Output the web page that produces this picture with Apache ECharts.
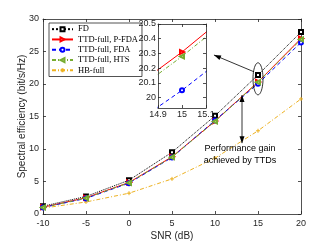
<!DOCTYPE html>
<html><head><meta charset="utf-8">
<script src="https://cdn.jsdelivr.net/npm/echarts@6/dist/echarts.min.js"></script>
<style>html,body{margin:0;padding:0;background:#fff}#c{width:332px;height:242px}</style>
</head><body><div id="c"></div>
<script>
const snr = [-10, -5, 0, 5, 10, 15, 20];
const fd = [1.2, 2.7, 5.2, 9.5, 15.1, 21.4, 28.0];
const ttdPfda = [1.05, 2.5, 4.85, 8.8, 14.3, 20.31, 27.0];
const ttdFda = [1.0, 2.4, 4.75, 8.7, 14.4, 20.05, 26.4];
const ttdHts = [1.0, 2.45, 4.8, 8.75, 14.25, 20.28, 26.85];
const hbFull = [0.9, 1.85, 3.2, 5.4, 8.6, 12.8, 17.7];
const names = ['FD', 'TTD-full, P-FDA', 'TTD-full, FDA', 'TTD-full, HTS', 'HB-full'];
const xTicks = [-10, -5, 0, 5, 10, 15, 20];
const yTicks = [0, 5, 10, 15, 20, 25, 30];
const insetXTicks = [14.9, 15, 15.1];
const insetYTicks = [20, 20.1, 20.2, 20.3, 20.4, 20.5];

const pts = arr => snr.map((x, i) => [x, arr[i]]);
const AX = '#262626';
const plus = 'path://M0,5L10,5M5,0L5,10';
const sty = [
  {c: '#000000', t: 'dotted', s: 'emptyRect', r: 0, z: 5},
  {c: '#ff0000', t: 'solid', s: 'emptyTriangle', r: -90, z: 6},
  {c: '#0000ff', t: [4, 3], s: 'emptyCircle', r: 0, z: 7},
  {c: '#77ac30', t: [4, 2, 1, 2], s: 'emptyTriangle', r: 90, z: 8},
  {c: '#edb120', t: [4, 2, 1, 2], s: plus, r: 0, z: 4}
];
const dataSets = [fd, ttdPfda, ttdFda, ttdHts, hbFull];

function mkSeries(i, xi, yi, zb) {
  const s = sty[i];
  return {
    name: names[i], type: 'line', xAxisIndex: xi, yAxisIndex: yi,
    data: pts(dataSets[i]), clip: true, z: s.z + zb,
    symbol: s.s, symbolSize: 4, symbolRotate: s.r, showSymbol: true,
    lineStyle: {color: s.c, width: 1, type: s.t},
    itemStyle: {color: s.c, borderColor: s.c, borderWidth: 1},
    emphasis: {disabled: true}, animation: false
  };
}

const series = [];
for (let i = 0; i < 5; i++) series.push(mkSeries(i, 0, 0, 0));
for (let i = 1; i < 4; i++) series.push(mkSeries(i, 2, 2, 20));

const labelStyle = {color: AX, fontSize: 9, fontFamily: 'Liberation Sans'};
function axis(grid, pos, min, max, ticks, showLabel, margin, z) {
  return {
    type: 'value', gridIndex: grid, position: pos, min: min, max: max, z: z,
    axisLine: {show: true, onZero: false, lineStyle: {color: AX, width: 0.8}},
    axisTick: {show: true, inside: true, length: 3, customValues: ticks, lineStyle: {color: AX, width: 0.8}},
    axisLabel: {show: showLabel, customValues: ticks, margin: margin, ...labelStyle,
      formatter: v => String(+v.toFixed(2))},
    splitLine: {show: false}
  };
}

const chart = echarts.init(document.getElementById('c'), null, {renderer: 'canvas'});
const option = {
  animation: false,
  backgroundColor: '#fff',
  grid: [
    {left: 43, right: 31, top: 19, bottom: 28, show: false, outerBoundsMode: 'none', containLabel: false},
    {left: 158, width: 48, top: 24, height: 84, show: true, backgroundColor: '#fff', borderWidth: 0, z: 15, outerBoundsMode: 'none', containLabel: false}
  ],
  xAxis: [
    Object.assign(axis(0, 'bottom', -10, 20, xTicks, true, 5, 2), {name: 'SNR (dB)', nameLocation: 'middle', nameGap: 17, nameMoveOverlap: false,
      nameTextStyle: {color: AX, fontSize: 10, fontFamily: 'Liberation Sans'}}),
    axis(0, 'top', -10, 20, xTicks, false, 4, 2),
    axis(1, 'bottom', 14.9, 15.1, insetXTicks, true, 2, 30),
    axis(1, 'top', 14.9, 15.1, insetXTicks, false, 2, 30)
  ],
  yAxis: [
    Object.assign(axis(0, 'left', 0, 30, yTicks, true, 4, 2), {name: 'Spectral efficiency (bit/s/Hz)', nameLocation: 'middle', nameGap: 16, nameMoveOverlap: false,
      nameTextStyle: {color: AX, fontSize: 10, fontFamily: 'Liberation Sans'}}),
    axis(0, 'right', 0, 30, yTicks, false, 4, 2),
    axis(1, 'left', 19.93, 20.5, insetYTicks, true, 2, 30),
    axis(1, 'right', 19.93, 20.5, insetYTicks, false, 2, 30)
  ],
  legend: {
    data: names, orient: 'vertical', left: 49, top: 23,
    itemWidth: 21, itemHeight: 5, itemGap: 1, padding: [1.5, 4, 1.5, 2],
    backgroundColor: '#fff', borderColor: AX, borderWidth: 0.8,
    textStyle: {fontFamily: 'Liberation Serif', fontSize: 8.5, lineHeight: 9.3, color: '#000'},
    selectedMode: false
  },
  series: series
};
chart.setOption(option);

const P = (x, y) => chart.convertToPixel({gridIndex: 0}, [x, y]);
function head(tip, from, len, wid) {
  const dx = tip[0] - from[0], dy = tip[1] - from[1];
  const L = Math.hypot(dx, dy), ux = dx / L, uy = dy / L;
  const bx = tip[0] - ux * len, by = tip[1] - uy * len;
  return {type: 'polygon', z: 50, shape: {points: [tip, [bx - uy * wid / 2, by + ux * wid / 2], [bx + uy * wid / 2, by - ux * wid / 2]]},
    style: {fill: '#000'}};
}
const ec = P(15, 20.8);
const ell = [];
for (let k = 0; k < 48; k++) {
  const a = k / 48 * Math.PI * 2;
  ell.push([ec[0] + 5 * Math.cos(a), ec[1] + 16 * Math.sin(a)]);
}
const a1s = [ec[0] - 4, ec[1] - 7];
const a1t = P(9.88, 24.46);
const a2x = 13.14;
const a2top = P(a2x, 18.3), a2bot = P(a2x, 10.9);
const tc1 = P(12.9, 10.0), tc2 = P(12.9, 8.3);
chart.setOption({
  graphic: [
    {type: 'polygon', z: 50, shape: {points: ell}, style: {fill: 'none', stroke: '#000', lineWidth: 0.8}},
    {type: 'line', z: 50, shape: {x1: a1s[0], y1: a1s[1], x2: a1t[0], y2: a1t[1]}, style: {stroke: '#000', lineWidth: 0.8}},
    head(a1t, a1s, 7, 5),
    {type: 'line', z: 50, shape: {x1: a2top[0], y1: a2top[1], x2: a2bot[0], y2: a2bot[1]}, style: {stroke: '#000', lineWidth: 0.8}},
    head(a2top, a2bot, 7, 5),
    head(a2bot, a2top, 7, 5),
    {type: 'text', z: 50, x: tc1[0], y: tc1[1], style: {text: 'Performance gain', fill: '#000', font: '9px "Liberation Sans"', align: 'center', verticalAlign: 'middle'}},
    {type: 'text', z: 50, x: tc2[0], y: tc2[1], style: {text: 'achieved by TTDs', fill: '#000', font: '9px "Liberation Sans"', align: 'center', verticalAlign: 'middle'}}
  ]
});
</script></body></html>
